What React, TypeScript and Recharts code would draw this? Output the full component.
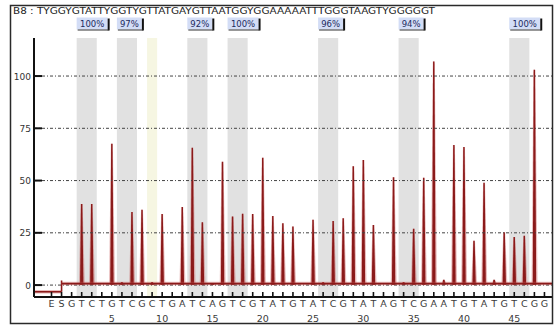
import React from 'react';
import {
  ComposedChart,
  Bar,
  XAxis,
  YAxis,
  ReferenceArea,
  ReferenceLine,
} from 'recharts';

// Dispensation order (E = enzyme, S = substrate, then nucleotides 1..48)
const DISPENSATIONS = [
  'E', 'S', 'G', 'T', 'C', 'T', 'G', 'T', 'C', 'G', 'C', 'T', 'G', 'A', 'T', 'C', 'A', 'G', 'T', 'C',
  'G', 'T', 'A', 'T', 'G', 'T', 'A', 'T', 'C', 'G', 'T', 'A', 'T', 'A', 'G', 'T', 'C', 'G', 'A', 'A',
  'T', 'G', 'T', 'A', 'T', 'G', 'T', 'C', 'G', 'G',
];

// Light signal per dispensation, same order as above
const SIGNAL = [
  0, 0, 0, 38.8, 38.8, 0, 67.6, 1.5, 35, 36, 1.5, 34, 0, 37.3, 65.7, 30, 1, 59, 32.8, 34.1,
  34, 60.9, 33, 29.6, 28, 0, 31.3, 1.5, 30.6, 32, 56.9, 59.8, 28.8, 0, 51.6, 1.5, 27, 51.3, 107, 2.5,
  67, 66, 21.2, 49, 2.5, 25.3, 23, 23.6, 103, 0,
];

// CpG sites (T/C dispensation pairs) and their methylation
const CPG_SITES = [[2, 3], [6, 7], [13, 14], [17, 18], [26, 27], [34, 35], [45, 46]];
const CPG_PERCENT = ['100%', '97%', '92%', '100%', '96%', '94%', '100%'];
const BISULFITE_CONTROL = 9;

const Y_TICKS = [0, 25, 50, 75, 100];
const PRE_SUBSTRATE_LEVEL = -3.2;
const BASELINE_LEVEL = 0.7;

const TITLE = 'B8 : TYGGYGTATTYGGTYGTTATGAYGTTAATGGYGGAAAAATTTGGGTAAGTYGGGGGT';

const X_DOMAIN: [number, number] = [-2.74, 48.75];
const Y_DOMAIN: [number, number] = [-5.7, 118.2];

const FONT = '"DejaVu Sans", Verdana, sans-serif';
const TRACE = '#8b1a1a';

const rows = DISPENSATIONS.map((d, i) => ({ pos: i - 1, base: d, signal: SIGNAL[i] }));

// narrow pyrogram peak drawn on top of the bar geometry
const Peak = (props: any) => {
  const { x, y, width, height } = props;
  if (!height || height < 0.5) return null;
  const cx = x + width / 2;
  const bottom = y + height;
  const pts = `${cx - 2.8},${bottom} ${cx - 1},${y} ${cx + 1},${y} ${cx + 3.2},${bottom}`;
  return (
    <g>
      <polygon points={pts} fill="rgba(200,90,90,0.4)" />
      <polygon points={`${cx - 1.6},${bottom} ${cx - 0.7},${y} ${cx + 0.7},${y} ${cx + 1.8},${bottom}`} fill={TRACE} />
    </g>
  );
};

const DispTick = (props: any) => {
  const { x, y, payload } = props;
  const n = payload.value;
  const letter = DISPENSATIONS[n + 1];
  return (
    <g>
      <line x1={x} x2={x} y1={y - 5} y2={y} stroke="#111" strokeWidth={1.6} />
      <text x={x} y={y + 10} textAnchor="middle" fontSize={9.5} fontFamily={FONT} fill="#3a3a3a">{letter}</text>
      {n > 0 && n % 5 === 0 && (
        <text x={x} y={y + 25} textAnchor="middle" fontSize={9.5} fontFamily={FONT} fill="#3a3a3a">{n}</text>
      )}
    </g>
  );
};

const ValueTick = (props: any) => {
  const { x, y, payload } = props;
  return (
    <g>
      <line x1={x} x2={x + 8} y1={y} y2={y} stroke="#111" strokeWidth={2} />
      <text x={x - 3} y={y + 3.5} textAnchor="end" fontSize={9} fontFamily={FONT} fill="#333">{payload.value}</text>
    </g>
  );
};

// methylation percentage badge above each CpG column
const PctBox = ({ viewBox, text }: { viewBox?: any; text: string }) => {
  if (!viewBox) return null;
  const w = text.length > 3 ? 31 : 25;
  const bx = viewBox.x;
  const by = 17.5;
  const h = 12;
  return (
    <g>
      <rect x={bx} y={by} width={w} height={h} fill="#d3ddf6" />
      <line x1={bx + w + 1} x2={bx + w + 1} y1={by + 1} y2={by + h + 1} stroke="#111" strokeWidth={2} />
      <line x1={bx + 1} x2={bx + w + 1} y1={by + h + 0.5} y2={by + h + 0.5} stroke="#333" strokeWidth={1} />
      <text x={bx + w / 2} y={by + 9} textAnchor="middle" fontSize={8.5} fontFamily={FONT} fill="#1c2b5e">{text}</text>
    </g>
  );
};

export default function App() {
  const xTicks = rows.map(r => r.pos);
  return (
    <div style={{ position: 'absolute', left: 0, top: 0, width: 558, height: 326, background: '#fff' }}>
      <ComposedChart
        width={558}
        height={326}
        data={rows}
        margin={{ top: 38, right: 6, bottom: 0, left: 0 }}
      >
        <XAxis
          dataKey="pos"
          type="number"
          domain={X_DOMAIN}
          allowDataOverflow
          ticks={xTicks}
          interval={0}
          height={29}
          tickSize={0}
          tickMargin={0}
          tickLine={false}
          axisLine={{ stroke: '#111', strokeWidth: 2 }}
          tick={<DispTick />}
        />
        <YAxis
          type="number"
          domain={Y_DOMAIN}
          allowDataOverflow
          ticks={Y_TICKS}
          width={34}
          tickSize={0}
          tickMargin={0}
          tickLine={false}
          axisLine={{ stroke: '#111', strokeWidth: 2 }}
          tick={<ValueTick />}
        />
        {CPG_SITES.map(([a, b], i) => (
          <ReferenceArea
            key={`cpg-${i}`}
            x1={a - 0.5}
            x2={b + 0.5}
            fill="#e1e1e1"
            fillOpacity={1}
            stroke="none"
            label={(p: any) => <PctBox viewBox={p.viewBox} text={CPG_PERCENT[i]} />}
          />
        ))}
        <ReferenceArea
          x1={BISULFITE_CONTROL - 0.5}
          x2={BISULFITE_CONTROL + 0.5}
          fill="#f6f6e2"
          fillOpacity={1}
          stroke="none"
        />
        {Y_TICKS.map(v => (
          <ReferenceLine key={`g-${v}`} y={v} stroke="#444" strokeWidth={1} strokeDasharray="3 2 1 2" />
        ))}
        {/* baseline before and after substrate addition */}
        <ReferenceLine
          segment={[{ x: X_DOMAIN[0] + 0.1, y: PRE_SUBSTRATE_LEVEL }, { x: 0, y: PRE_SUBSTRATE_LEVEL }]}
          stroke="rgba(200,90,90,0.4)"
          strokeWidth={3.5}
        />
        <ReferenceLine
          segment={[{ x: X_DOMAIN[0] + 0.1, y: PRE_SUBSTRATE_LEVEL }, { x: 0, y: PRE_SUBSTRATE_LEVEL }]}
          stroke={TRACE}
          strokeWidth={1.6}
        />
        <ReferenceLine
          segment={[{ x: 0, y: PRE_SUBSTRATE_LEVEL }, { x: 0, y: BASELINE_LEVEL + 1.5 }]}
          stroke={TRACE}
          strokeWidth={1.6}
        />
        <ReferenceLine
          segment={[{ x: 0, y: BASELINE_LEVEL }, { x: X_DOMAIN[1], y: BASELINE_LEVEL }]}
          stroke="rgba(200,90,90,0.4)"
          strokeWidth={3.5}
        />
        <ReferenceLine
          segment={[{ x: 0, y: BASELINE_LEVEL }, { x: X_DOMAIN[1], y: BASELINE_LEVEL }]}
          stroke={TRACE}
          strokeWidth={1.6}
        />
        <Bar dataKey="signal" barSize={4} shape={<Peak />} isAnimationActive={false} />
      </ComposedChart>
      <svg
        width={558}
        height={326}
        style={{ position: 'absolute', left: 0, top: 0, pointerEvents: 'none' }}
      >
        <rect x={10.5} y={5.5} width={542} height={318} fill="none" stroke="#2a2a2a" strokeWidth={1.5} />
        <text
          x={13}
          y={14}
          fontSize={8.5}
          fontFamily={FONT}
          fill="#222"
          textLength={422}
          lengthAdjust="spacingAndGlyphs"
        >
          {TITLE}
        </text>
      </svg>
    </div>
  );
}
